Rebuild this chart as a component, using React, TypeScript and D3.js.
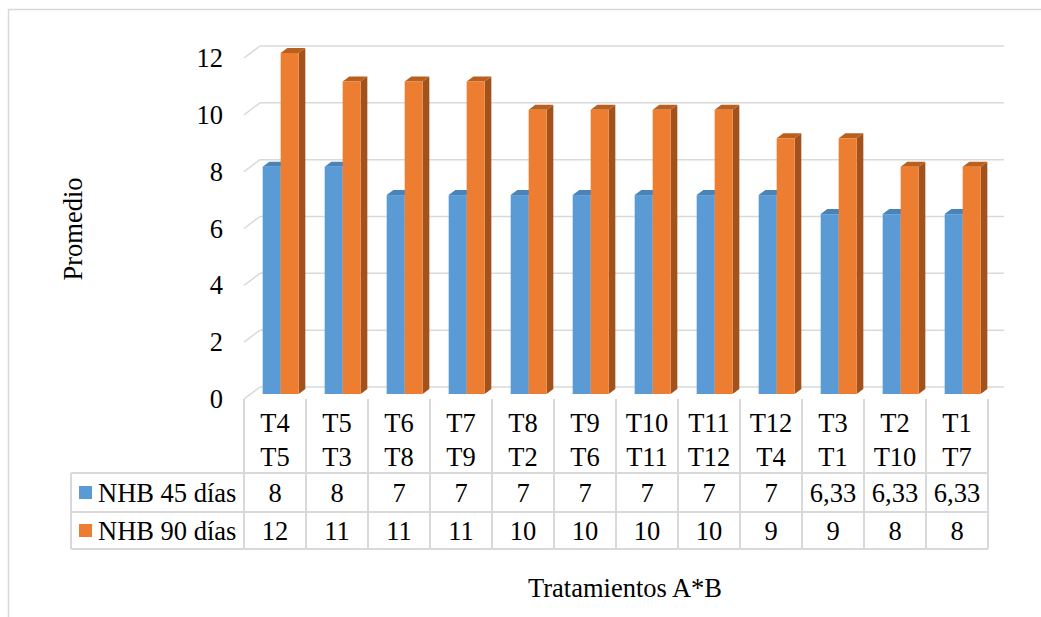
import React from "react";
import * as d3 from "d3";

// Treatment combinations (two-line labels) and the mean NHB at 45 and 90 days
const catLine1 = ["T4", "T5", "T6", "T7", "T8", "T9", "T10", "T11", "T12", "T3", "T2", "T1"];
const catLine2 = ["T5", "T3", "T8", "T9", "T2", "T6", "T11", "T12", "T4", "T1", "T10", "T7"];
const nhb45 = [8, 8, 7, 7, 7, 7, 7, 7, 7, 6.33, 6.33, 6.33];
const nhb90 = [12, 11, 11, 11, 10, 10, 10, 10, 9, 9, 8, 8];
const seriesNames = ["NHB 45 días", "NHB 90 días"];
const yTicks = [0, 2, 4, 6, 8, 10, 12];

const W = 1041;
const H = 617;
const FONT = "'Liberation Serif', 'Times New Roman', serif";
const FS = 26.5;
const GRID = "#d9d9d9";

// front plane of the 3-D plot area
const left = 244;
const right = 988;
const DX = 16; // depth offset to the back wall
const DY = -12;

const fmt = (v: number) => (Number.isInteger(v) ? String(v) : v.toFixed(2).replace(".", ","));

export default function App() {
  const x = d3.scaleBand<number>().domain(d3.range(catLine1.length)).range([left, right]);
  const y = d3.scaleLinear().domain([0, 12]).range([399, 58]);
  const bw = 18;
  const t0 = 5 / 12; // front face depth fraction of the bars
  const t1 = 10 / 12; // back face depth fraction

  const colors = [
    { front: "#5b9bd5", top: "#4a83b8", side: "#3f6f9c" },
    { front: "#ed7d31", top: "#b9601f", side: "#a4521b" },
  ];

  const bars: React.ReactNode[] = [];
  catLine1.forEach((_, i) => {
    const cx = x(i)! + x.bandwidth() / 2;
    [nhb45[i], nhb90[i]].forEach((v, s) => {
      const xf = cx + (s === 0 ? -bw : 0) + DX * t0 - 1;
      const yb = y(0) + DY * t0;
      const yt = y(v) + DY * t0;
      const ddx = DX * (t1 - t0);
      const ddy = DY * (t1 - t0);
      const c = colors[s];
      bars.push(
        <g key={`b${i}-${s}`}>
          <polygon
            points={`${xf + bw},${yb} ${xf + bw + ddx},${yb + ddy} ${xf + bw + ddx},${yt + ddy} ${xf + bw},${yt}`}
            fill={c.side}
          />
          <polygon
            points={`${xf},${yt} ${xf + ddx},${yt + ddy} ${xf + bw + ddx},${yt + ddy} ${xf + bw},${yt}`}
            fill={c.top}
          />
          <rect x={xf} y={yt} width={bw} height={yb - yt} fill={c.front} />
        </g>
      );
    });
  });

  const rowTop = 473;
  const rowMid = 512;
  const rowBot = 549;
  const tableLeft = 71;

  return (
    <svg width={W} height={H} style={{ position: "absolute", left: 0, top: 0 }} fontFamily={FONT}>
      <rect x={0} y={0} width={W} height={H} fill="#ffffff" />
      {/* chart border */}
      <path d={`M8.5,${H + 2} V9.5 H${W + 2}`} fill="none" stroke={GRID} strokeWidth={1.5} />

      {/* gridlines: back wall plus the slanted side-wall segment */}
      {yTicks.map((v) => (
        <g key={`g${v}`}>
          <line x1={left} y1={y(v)} x2={left + DX} y2={y(v) + DY} stroke={GRID} strokeWidth={1.5} />
          <line x1={left + DX} y1={y(v) + DY} x2={right + DX} y2={y(v) + DY} stroke={GRID} strokeWidth={1.5} />
        </g>
      ))}

      {/* y tick labels */}
      {yTicks.map((v) => (
        <text key={`yt${v}`} x={223} y={y(v)} textAnchor="end" dominantBaseline="central" fontSize={FS} fill="#000">
          {v}
        </text>
      ))}

      {bars}

      {/* data table */}
      <g stroke={GRID} strokeWidth={2} fill="none">
        {d3.range(catLine1.length + 1).map((i) => {
          const xx = i < catLine1.length ? x(i)! : right;
          return <line key={`v${i}`} x1={xx} y1={399} x2={xx} y2={rowBot} />;
        })}
        <line x1={tableLeft} y1={rowTop} x2={right} y2={rowTop} />
        <line x1={tableLeft} y1={rowMid} x2={right} y2={rowMid} />
        <line x1={tableLeft} y1={rowBot} x2={right} y2={rowBot} />
        <line x1={tableLeft} y1={rowTop} x2={tableLeft} y2={rowBot} />
      </g>

      {catLine1.map((c, i) => {
        const cx = x(i)! + x.bandwidth() / 2;
        return (
          <g key={`c${i}`} fontSize={FS} textAnchor="middle" fill="#000">
            <text x={cx} y={423} dominantBaseline="central">{c}</text>
            <text x={cx} y={457} dominantBaseline="central">{catLine2[i]}</text>
            <text x={cx} y={(rowTop + rowMid) / 2} dominantBaseline="central">{fmt(nhb45[i])}</text>
            <text x={cx} y={(rowMid + rowBot) / 2} dominantBaseline="central">{fmt(nhb90[i])}</text>
          </g>
        );
      })}

      {/* legend keys in the table */}
      {seriesNames.map((n, s) => {
        const cy = s === 0 ? (rowTop + rowMid) / 2 : (rowMid + rowBot) / 2;
        return (
          <g key={`l${s}`}>
            <rect x={79} y={cy - 6.5} width={13} height={13} fill={colors[s].front} />
            <text x={98} y={cy} dominantBaseline="central" fontSize={FS} fill="#000">
              {n}
            </text>
          </g>
        );
      })}

      {/* axis titles */}
      <text x={625} y={588} textAnchor="middle" dominantBaseline="central" fontSize={FS} fill="#000">
        Tratamientos A*B
      </text>
      <text
        transform={`translate(73,229) rotate(-90)`}
        textAnchor="middle"
        dominantBaseline="central"
        fontSize={FS}
        fill="#000"
      >
        Promedio
      </text>
    </svg>
  );
}
